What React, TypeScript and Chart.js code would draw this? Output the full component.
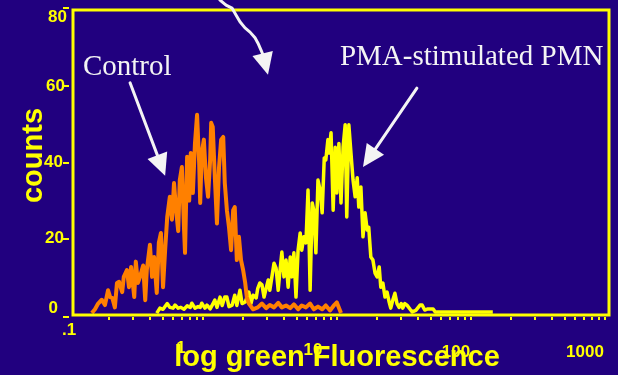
import { useEffect, useRef } from "react";
import { Chart, registerables } from "chart.js";

Chart.register(...registerables);

// ---------- data ----------
// x axis: instrument channel (1024 channels = 4 log decades, 0.1 .. 1000)
const channelMax = 1024;
const channelsPerDecade = 256;
const yTickValues = [0, 20, 40, 60, 80];
const xDecadeLabels = [".1", "1", "10", "100", "1000"];

const controlChannels = [
  36, 42, 48, 55, 61, 67, 71, 75, 80, 84, 88, 94, 97, 103, 107, 111, 117, 120, 124, 128,
  134, 138, 141, 147, 151, 155, 160, 164, 168, 172, 176, 180, 185, 189, 193, 197, 201, 204, 208, 212,
  214, 218, 222, 225, 229, 233, 237, 241, 243, 246, 250, 254, 258, 262, 264, 267, 271, 275, 279, 283,
  287, 290, 294, 298, 302, 306, 309, 313, 317, 321, 325, 329, 332, 336, 344, 353, 361, 369, 376, 384,
  392, 399, 407, 415, 422, 430, 437, 445, 453, 460, 468, 476, 483, 491, 499, 504, 512,
];
const controlCounts = [
  0.5, 1.5, 3, 4, 2.6, 6.5, 4.7, 4.5, 2, 8.4, 8.7, 6, 10, 11.8, 7.3, 12.6, 4.7, 14, 8.4, 10,
  13, 3.9, 11.8, 18.4, 10, 15.2, 5.8, 19, 21.5, 7.3, 17, 25.7, 31, 25, 34.6, 27.5, 22, 35.4, 38.8, 23,
  16.3, 41.5, 30, 42.5, 32, 45, 52.5, 40, 29.4, 42.5, 46, 36, 31, 40.7, 50.4, 49.3, 36, 24, 38.8, 46,
  46.7, 34.6, 27.5, 23, 17, 27.5, 28.3, 14.4, 20.5, 14.4, 11.8, 8.4, 4.7, 3, 1.5, 2, 3, 1.8, 2.6, 2,
  3.2, 2, 2.5, 1.8, 2.8, 1.5, 2.5, 2, 3, 1.5, 2.2, 1.5, 2.5, 1.2, 2.6, 3.3, 0.5,
];

const pmaChannels = [
  160, 166, 172, 180, 185, 191, 195, 201, 206, 212, 218, 224, 227, 233, 239, 243, 246, 252, 256, 262,
  266, 271, 275, 281, 285, 290, 294, 298, 304, 309, 313, 319, 323, 329, 336, 340, 344, 350, 353, 357,
  361, 365, 369, 373, 376, 380, 384, 388, 392, 395, 399, 403, 407, 411, 415, 418, 422, 426, 430, 434,
  437, 441, 445, 449, 453, 457, 460, 464, 468, 472, 476, 480, 483, 487, 489, 493, 497, 501, 504, 508,
  512, 516, 520, 523, 527, 531, 535, 539, 543, 546, 550, 554, 558, 562, 565, 569, 573, 577, 581, 585,
  588, 592, 596, 600, 604, 607, 611, 615, 619, 623, 627, 630, 634, 638, 644, 648, 655, 663, 667, 672,
  678, 688, 692, 802,
];
const pmaCounts = [
  0.5, 1.8, 1.5, 3, 2, 1.8, 2.6, 1.8, 2, 1.5, 2.4, 2, 3.1, 1.8, 2.2, 2, 3.1, 1.8, 2.6, 1.6,
  2.6, 3.9, 2, 4.7, 2.5, 4.7, 4.7, 2.2, 2.6, 5.2, 2.5, 6.5, 3, 3.4, 6, 3, 5.2, 4.5, 7, 8.4,
  7.9, 4.7, 7, 9.2, 6.5, 10, 13.6, 12.3, 6.5, 11, 16.5, 10, 14.4, 7.3, 15.2, 10, 16.3, 4.7, 17, 21.5,
  17, 20.5, 18.9, 32.8, 6.5, 29.4, 27.5, 16.3, 35.4, 32.8, 26.8, 41.2, 40.7, 46, 42.5, 47.8, 27.5, 44, 32, 45,
  29.4, 44, 49.9, 25.7, 49.9, 42.5, 35.4, 31, 36, 28.3, 33.6, 20.5, 26.8, 22.3, 23, 15.2, 14.4, 11, 10, 12.6,
  7.3, 8.4, 4.7, 6, 3.4, 1.8, 3.9, 5.7, 3, 2, 3, 1.8, 3, 2.6, 1.5, 0.8, 1.2, 2.6, 2.6, 1.3,
  1.6, 1.6, 0.8, 0.8,
];

// annotations (in data units: channel, count)
const annotationTexts = ["Control", "PMA-stimulated PMN"];
const annotationAnchors = [
  [19, 63],
  [510, 65.6],
];
const controlArrow = [
  [109, 60.9],
  [176, 36.5],
];
const pmaArrow = [
  [657, 59.5],
  [554, 38.8],
];
const topArrow = [
  [280.8, 82.6],
  [292.3, 81.3],
  [303.8, 80.5],
  [311.4, 78.7],
  [319, 76.9],
  [328.6, 75.3],
  [338.2, 74.2],
  [347.7, 72.7],
  [353.4, 71.3],
  [359.2, 69.5],
  [363, 68.2],
  [372.5, 63],
];

const xTitle = "log green Fluorescence";
const yTitle = "counts";

// ---------- style ----------
const BG = "#21007f";
const YELLOW = "#ffff00";
const ORANGE = "#ff8000";
const WHITE = "#f4f4f4";
const SANS = "'Liberation Sans', Arial, sans-serif";
const SERIF = "'Liberation Serif', 'Times New Roman', serif";

function drawArrow(ctx: CanvasRenderingContext2D, pts: number[][]) {
  const n = pts.length;
  const [tx, ty] = pts[n - 1];
  const [px, py] = pts[n - 2];
  const dx = tx - px;
  const dy = ty - py;
  const len = Math.hypot(dx, dy) || 1;
  const ux = dx / len;
  const uy = dy / len;
  const headLen = 22;
  const half = 10.5;
  const bx = tx - ux * headLen;
  const by = ty - uy * headLen;
  ctx.beginPath();
  ctx.moveTo(pts[0][0], pts[0][1]);
  for (let i = 1; i < n - 1; i++) ctx.lineTo(pts[i][0], pts[i][1]);
  ctx.lineTo(bx + ux * 2, by + uy * 2);
  ctx.stroke();
  ctx.beginPath();
  ctx.moveTo(tx, ty);
  ctx.lineTo(bx - uy * half, by + ux * half);
  ctx.lineTo(bx + uy * half, by - ux * half);
  ctx.closePath();
  ctx.fill();
}

const overlayPlugin = {
  id: "overlay",
  afterDatasetsDraw(chart: any) {
    const { ctx, chartArea: a, scales } = chart;
    const X = (v: number) => scales.x.getPixelForValue(v);
    const Y = (v: number) => scales.y.getPixelForValue(v);
    ctx.save();

    // frame
    ctx.strokeStyle = YELLOW;
    ctx.lineWidth = 3;
    ctx.strokeRect(a.left, a.top, a.right - a.left, a.bottom - a.top);

    // y ticks + labels
    ctx.fillStyle = YELLOW;
    ctx.lineWidth = 2;
    ctx.font = `bold 17px ${SANS}`;
    ctx.textAlign = "right";
    ctx.textBaseline = "middle";
    const yNudge = [
      [-15, -7, 2],
      [-9, 0, 0],
      [-10, 0, 0],
      [-8, 0, 0],
      [-6, 7, -2],
    ];
    yTickValues.forEach((v, i) => {
      const py = Math.round(Y(v)) + yNudge[i][2];
      ctx.beginPath();
      ctx.moveTo(a.left - 10, py);
      ctx.lineTo(a.left - 4, py);
      ctx.stroke();
      ctx.fillText(String(v), a.left + yNudge[i][0], Y(v) + yNudge[i][1]);
    });

    // x minor/major log ticks
    const tickShift = -4;
    for (let k = 0; k < 4; k++) {
      for (let m = 1; m <= 10; m++) {
        if (m === 10 && k < 3) continue;
        const c = channelsPerDecade * (k + Math.log10(m));
        const px = Math.round(X(c)) + tickShift;
        if (px < a.left) continue;
        ctx.fillRect(px - 1, a.bottom + 2, 2, 3);
      }
    }

    // x decade labels (placed as in the original slide)
    ctx.textAlign = "center";
    const xNudge = [
      [-4, 15],
      [-26, 33],
      [-28, 35],
      [-19, 37],
      [-24, 37],
    ];
    xDecadeLabels.forEach((lab, k) => {
      ctx.fillText(lab, X(k * channelsPerDecade) + xNudge[k][0], a.bottom + xNudge[k][1]);
    });

    // axis titles
    ctx.font = `bold 29px ${SANS}`;
    ctx.textBaseline = "alphabetic";
    ctx.fillText(xTitle, (a.left + a.right) / 2 - 4, a.bottom + 51);
    ctx.save();
    ctx.translate(42, (a.top + a.bottom) / 2 - 7);
    ctx.rotate(-Math.PI / 2);
    ctx.fillText(yTitle, 0, 0);
    ctx.restore();

    // annotations
    ctx.fillStyle = WHITE;
    ctx.strokeStyle = WHITE;
    ctx.font = `29px ${SERIF}`;
    ctx.textAlign = "left";
    annotationTexts.forEach((t, i) => {
      ctx.fillText(t, X(annotationAnchors[i][0]), Y(annotationAnchors[i][1]));
    });
    ctx.lineWidth = 3;
    ctx.lineJoin = "round";
    ctx.lineCap = "round";
    [controlArrow, pmaArrow, topArrow].forEach((arr) => {
      drawArrow(
        ctx,
        arr.map(([c, v]) => [X(c), Y(v)])
      );
    });

    ctx.restore();
  },
};

export default function App() {
  const ref = useRef<HTMLCanvasElement | null>(null);

  useEffect(() => {
    if (!ref.current) return;
    const chart = new Chart(ref.current, {
      type: "line",
      data: {
        datasets: [
          {
            label: "Control",
            data: controlChannels.map((c, i) => ({ x: c, y: controlCounts[i] })),
            borderColor: ORANGE,
            borderWidth: 4,
            borderJoinStyle: "round",
            pointRadius: 0,
            tension: 0,
            fill: false,
            order: 0,
          },
          {
            label: "PMA-stimulated PMN",
            data: pmaChannels.map((c, i) => ({ x: c, y: pmaCounts[i] })),
            borderColor: YELLOW,
            borderWidth: 3.5,
            borderJoinStyle: "round",
            pointRadius: 0,
            tension: 0,
            fill: false,
            order: 1,
          },
        ],
      },
      options: {
        animation: false,
        responsive: false,
        devicePixelRatio: 1,
        layout: { padding: { left: 73, right: 9, top: 10, bottom: 60 } },
        scales: {
          x: { type: "linear", min: 0, max: channelMax, display: false },
          y: { type: "linear", min: 0, max: 80, display: false },
        },
        plugins: {
          legend: { display: false },
          tooltip: { enabled: false },
        },
      },
      plugins: [overlayPlugin],
    } as any);
    return () => chart.destroy();
  }, []);

  return (
    <div
      style={{
        position: "fixed",
        left: 0,
        top: 0,
        width: 618,
        height: 375,
        background: BG,
      }}
    >
      <canvas ref={ref} width={618} height={375} style={{ display: "block" }} />
    </div>
  );
}
